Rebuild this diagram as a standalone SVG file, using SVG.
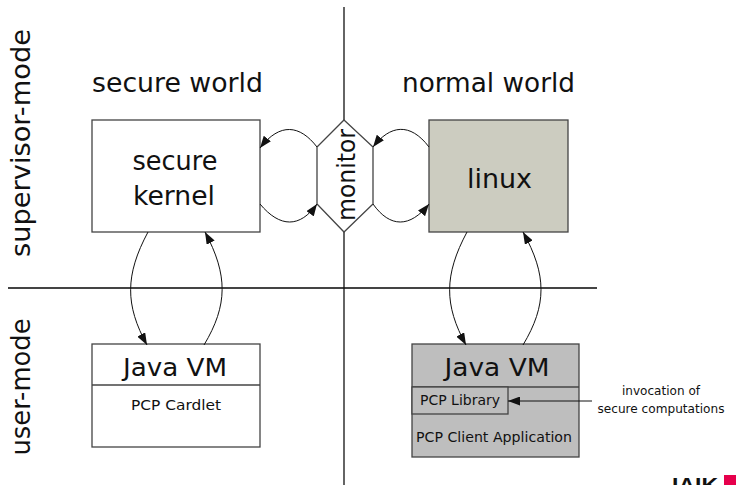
<svg xmlns="http://www.w3.org/2000/svg" width="736" height="485" viewBox="0 0 736 485">
<style>
text{font-family:"DejaVu Sans","Liberation Sans",sans-serif;fill:#111}
.big{font-size:26px}
.mid{font-size:24px}
.sm{font-size:13.5px}
.xs{font-size:11.5px}
.box{stroke:#444;stroke-width:1.3}
.cn{fill:none;stroke:#111;stroke-width:1}
.axis{stroke:#444;stroke-width:2}
</style>
<defs>
<marker id="ah" viewBox="0 0 12 9" refX="12" refY="4.5" markerWidth="12" markerHeight="9" markerUnits="userSpaceOnUse" orient="auto">
<path d="M0,0 L12,4.5 L0,9 Z" fill="#111"/>
</marker>
</defs>
<rect width="736" height="485" fill="#fff"/>
<g id="axes">
<line class="axis" x1="8" y1="288" x2="597" y2="288"/>
<line x1="344" y1="7" x2="344" y2="485" stroke="#111" stroke-width="1.3"/>
</g>
<g id="labels">
<text class="big" x="92" y="92" textLength="171" lengthAdjust="spacingAndGlyphs">secure world</text>
<text class="big" x="402" y="92" textLength="173" lengthAdjust="spacingAndGlyphs">normal world</text>
<text class="big" transform="translate(30,143) rotate(-90)" text-anchor="middle" textLength="228" lengthAdjust="spacingAndGlyphs">supervisor-mode</text>
<text class="big" transform="translate(30,387) rotate(-90)" text-anchor="middle" textLength="137" lengthAdjust="spacingAndGlyphs">user-mode</text>
</g>
<g id="secure-kernel">
<rect class="box" x="92" y="120" width="168" height="112" fill="#fff"/>
<text class="big" x="175" y="170" text-anchor="middle" textLength="85" lengthAdjust="spacingAndGlyphs">secure</text>
<text class="big" x="174" y="205" text-anchor="middle" textLength="82" lengthAdjust="spacingAndGlyphs">kernel</text>
</g>
<g id="monitor">
<polygon class="box" points="344,120 373,147 373,204 344,232 317,204 317,147" fill="#fff" stroke="#111"/>
<text class="mid" transform="translate(355,175) rotate(-90)" text-anchor="middle" textLength="92" lengthAdjust="spacingAndGlyphs">monitor</text>
</g>
<g id="linux">
<rect class="box" x="429" y="120" width="139" height="112" fill="#ccccc0"/>
<text class="big" x="499.5" y="188" text-anchor="middle" textLength="65" lengthAdjust="spacingAndGlyphs">linux</text>
</g>
<g id="javavm-secure">
<rect class="box" x="92" y="344" width="168" height="103" fill="#fff"/>
<line class="box" x1="92" y1="385" x2="260" y2="385"/>
<text class="mid" x="175" y="376" text-anchor="middle" textLength="104" lengthAdjust="spacingAndGlyphs">Java VM</text>
<text class="sm" x="176" y="410" text-anchor="middle" textLength="90" lengthAdjust="spacingAndGlyphs">PCP Cardlet</text>
</g>
<g id="javavm-normal">
<rect class="box" x="412" y="344" width="167" height="113" fill="#bebebe"/>
<line class="box" x1="412" y1="387" x2="579" y2="387"/>
<text class="mid" x="497" y="376" text-anchor="middle" textLength="105" lengthAdjust="spacingAndGlyphs">Java VM</text>
<rect class="box" x="412" y="387" width="96" height="27" fill="#bebebe"/>
<text class="sm" x="460" y="405" text-anchor="middle" textLength="80" lengthAdjust="spacingAndGlyphs">PCP Library</text>
<text class="sm" x="494" y="442" text-anchor="middle" textLength="156" lengthAdjust="spacingAndGlyphs">PCP Client Application</text>
</g>
<g id="invocation-label">
<text class="xs" x="661" y="395" text-anchor="middle" textLength="78" lengthAdjust="spacingAndGlyphs">invocation of</text>
<text class="xs" x="661" y="413" text-anchor="middle" textLength="127" lengthAdjust="spacingAndGlyphs">secure computations</text>
</g>
<g id="logo">
<text x="672" y="492" style="font-size:20px;font-weight:bold;font-family:'Liberation Sans',sans-serif" textLength="46" lengthAdjust="spacingAndGlyphs">IAIK</text>
<rect x="724" y="475" width="12" height="10" fill="#e6004c"/>
</g>
<g id="connectors">
<path class="cn" d="M317,147 C300,125 280,122 260,148" marker-end="url(#ah)"/>
<path class="cn" d="M260,204 C280,228 300,228 317,204" marker-end="url(#ah)"/>
<path class="cn" d="M429,147 C410,122 390,125 373,147" marker-end="url(#ah)"/>
<path class="cn" d="M373,204 C390,228 410,228 429,204" marker-end="url(#ah)"/>
<path class="cn" d="M148,232 C125,275 125,305 147,345" marker-end="url(#ah)"/>
<path class="cn" d="M204,345 C228,305 228,275 205,232" marker-end="url(#ah)"/>
<path class="cn" d="M467,232 C444,275 444,305 466,345" marker-end="url(#ah)"/>
<path class="cn" d="M523,345 C547,305 547,275 523,232" marker-end="url(#ah)"/>
<path class="cn" d="M592,401 L508,401" marker-end="url(#ah)"/>
</g>
</svg>
